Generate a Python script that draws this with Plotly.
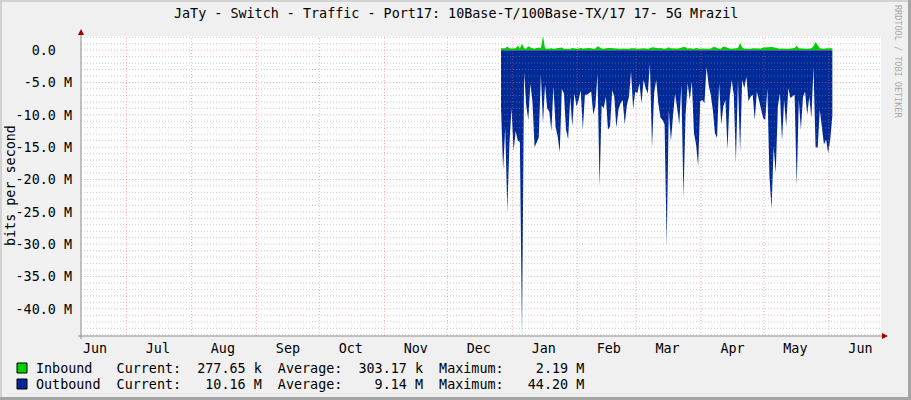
import plotly.graph_objects as go
import pandas as pd

# ---------------- data ----------------
TITLE = "JaTy - Switch - Traffic - Port17: 10Base-T/100Base-TX/17 17- 5G Mrazil"
DATA_START = "2010-12-26 15:00"          # first daily sample
X_RANGE = ["2010-06-09 08:00", "2011-06-25 19:40"]

# Inbound (bits/s, in millions), one value per day
inbound_M = [
    0.30, 0.35, 0.30, 0.55, 0.30, 0.25, 0.30, 0.30, 0.70, 0.30,
    1.00, 0.30, 0.25, 0.60, 0.40, 0.30, 0.20, 0.35, 0.40, 0.30,
    2.19, 0.30, 0.20, 0.25, 0.30, 0.20, 0.25, 0.40, 0.35, 0.40,
    0.20, 0.25, 0.20, 0.20, 0.35, 0.30, 0.20, 0.25, 0.35, 0.25,
    0.30, 0.35, 0.35, 0.30, 0.20, 0.25, 0.60, 0.45, 0.25, 0.20,
    0.30, 0.35, 0.35, 0.30, 0.35, 0.30, 0.25, 0.20, 0.25, 0.20,
    0.25, 0.20, 0.30, 0.35, 0.30, 0.20, 0.25, 0.20, 0.30, 0.25,
    0.20, 0.30, 0.45, 0.40, 0.30, 0.30, 0.35, 0.30, 0.20, 0.30,
    0.45, 0.30, 0.25, 0.20, 0.25, 0.30, 0.40, 0.50, 0.45, 0.25,
    0.30, 0.25, 0.20, 0.35, 0.25, 0.20, 0.25, 0.20, 0.25, 0.20,
    0.25, 0.45, 0.50, 0.40, 0.20, 0.25, 0.55, 0.50, 0.35, 0.25,
    0.20, 0.25, 0.30, 0.35, 1.10, 0.40, 0.25, 0.20, 0.25, 0.20,
    0.30, 0.30, 0.25, 0.20, 0.25, 0.40, 0.45, 0.50, 0.45, 0.50,
    0.45, 0.35, 0.25, 0.20, 0.25, 0.20, 0.25, 0.20, 0.25, None,
    0.35, 0.70, 0.30, 0.25, 0.20, 0.25, 0.20, 0.25, 0.30, 0.60,
    1.25, 0.80, 0.30, 0.25, 0.20, 0.30, 0.30, 0.25, 0.28,
]

# Outbound (bits/s, in millions, drawn negative), one value per day
outbound_M = [
    -9.0, -18.5, -12.0, -25.0, -14.5, -9.0, -15.6, -12.5, -14.0, -14.2,
    -44.2, -3.4, -8.5, -10.8, -5.2, -8.0, -15.0, -14.2, -13.5, -3.8,
    -11.3, -5.3, -9.0, -9.5, -12.5, -5.6, -11.8, -13.3, -15.8, -6.0,
    -6.7, -12.3, -13.8, -7.2, -11.8, -6.7, -8.7, -7.7, -6.2, -12.3,
    -6.9, -6.9, -6.7, -6.4, -10.0, -8.7, -3.6, -21.0, -8.5, -9.0,
    -7.2, -12.3, -11.8, -6.2, -7.2, -12.0, -9.2, -8.2, -7.7, -11.5,
    -8.5, -7.2, -3.3, -9.1, -6.4, -6.7, -5.1, -8.2, -4.6, -5.9,
    -6.7, -2.1, -15.1, -6.7, -4.6, -8.2, -10.4, -10.8, -11.5, -30.3,
    -9.2, -14.1, -10.3, -6.7, -9.0, -11.5, -5.4, -22.8, -10.0, -5.1,
    -7.7, -4.9, -12.8, -14.6, -17.9, -7.9, -7.7, -8.2, -2.6, -5.4,
    -6.9, -9.2, -12.8, -13.6, -5.1, -11.5, -8.7, -7.7, -15.4, -7.4,
    -4.6, -6.9, -17.4, -4.6, -15.8, -4.6, -5.9, -4.1, -7.9, -7.2,
    -6.9, -10.8, -6.4, -7.7, -9.0, -10.5, -10.8, -5.9, -19.5, -24.6,
    -14.9, -19.0, -8.7, -6.7, -14.1, -7.7, -11.8, -5.9, -7.4, None,
    -6.9, -21.0, -7.7, -12.3, -7.2, -6.4, -10.0, -7.2, -10.5, -2.6,
    -15.0, -15.1, -9.2, -12.3, -14.6, -13.8, -15.9, -13.8, -10.16,
]

month_names = ["Jun", "Jul", "Aug", "Sep", "Oct", "Nov", "Dec",
               "Jan", "Feb", "Mar", "Apr", "May", "Jun"]
month_label_dates = ["2010-06-16", "2010-07-16", "2010-08-16", "2010-09-16",
                     "2010-10-16", "2010-11-16", "2010-12-16", "2011-01-16",
                     "2011-02-16", "2011-03-16", "2011-04-16", "2011-05-16",
                     "2011-06-16"]
month_grid_dates = ["2010-07-01", "2010-08-01", "2010-09-01", "2010-10-01",
                    "2010-11-01", "2010-12-01", "2011-01-01", "2011-02-01",
                    "2011-03-01", "2011-04-01", "2011-05-01", "2011-06-01"]

y_tick_vals = [0, -5, -10, -15, -20, -25, -30, -35, -40]
y_tick_text = ["0.0  ", "-5.0 M", "-10.0 M", "-15.0 M", "-20.0 M",
               "-25.0 M", "-30.0 M", "-35.0 M", "-40.0 M"]

legend_names = ["Inbound", "Outbound"]
legend_colors = ["#00CF00", "#002A97"]
legend_current = ["277.65 k", "10.16 M"]
legend_average = ["303.17 k", "9.14 M"]
legend_maximum = ["2.19 M", "44.20 M"]

# ---------------- figure ----------------
W, H = 911, 400
L, R, T, B = 81, 30, 36, 64
PW, PH = W - L - R, H - T - B
FONT = "DejaVu Sans Mono"
FS = 13.4
NB = "\u00a0"

def px(X):
    return (X - L) / PW

def py(Y):
    return (T + PH - Y) / PH

dates = pd.date_range(DATA_START, periods=len(outbound_M), freq="D")

fig = go.Figure()
fig.add_trace(go.Scatter(
    x=dates, y=inbound_M, mode="lines", fill="tozeroy",
    line=dict(width=0, color=legend_colors[0]), fillcolor=legend_colors[0],
    connectgaps=False, showlegend=False, hoverinfo="skip"))
fig.add_trace(go.Scatter(
    x=dates, y=outbound_M, mode="lines", fill="tozeroy",
    line=dict(width=0, color=legend_colors[1]), fillcolor=legend_colors[1],
    connectgaps=False, showlegend=False, hoverinfo="skip"))

y_max = max(v for v in inbound_M if v is not None)
y_min = min(v for v in outbound_M if v is not None)

shapes = []
# grid (drawn above data, as rrdtool does)
minor_col = "rgba(150,150,150,0.5)"
major_col = "rgba(255,90,90,0.5)"
for v in range(int(y_max), int(y_min) - 1, -1):
    if v < y_min or v > y_max:
        continue
    shapes.append(dict(type="line", xref="paper", yref="y", x0=0, x1=1, y0=v, y1=v,
                       line=dict(color=major_col if v % 5 == 0 else minor_col,
                                 width=1, dash="1px,2px"), layer="above"))
for d in month_grid_dates:
    shapes.append(dict(type="line", xref="x", yref="paper", x0=d, x1=d, y0=0, y1=1,
                       line=dict(color=major_col, width=1, dash="1px,2px"), layer="above"))

axis_col = "#8C8C8C"
arrow_col = "#A00000"
# axes
shapes.append(dict(type="line", xref="paper", yref="paper",
                   x0=px(81), x1=px(81), y0=py(339), y1=py(33),
                   line=dict(color=axis_col, width=1), layer="above"))
shapes.append(dict(type="line", xref="paper", yref="paper",
                   x0=px(78), x1=px(884), y0=py(336), y1=py(336),
                   line=dict(color=axis_col, width=1), layer="above"))
# arrows
shapes.append(dict(type="path", xref="paper", yref="paper",
                   path=f"M {px(81)} {py(29)} L {px(78)} {py(35)} L {px(84)} {py(35)} Z",
                   fillcolor=arrow_col, line=dict(width=0), layer="above"))
shapes.append(dict(type="path", xref="paper", yref="paper",
                   path=f"M {px(888)} {py(336)} L {px(882)} {py(333)} L {px(882)} {py(339)} Z",
                   fillcolor=arrow_col, line=dict(width=0), layer="above"))
# frame
shapes.append(dict(type="rect", xref="paper", yref="paper", x0=px(0), x1=px(W), y0=py(0), y1=py(2),
                   fillcolor="#D2D2D2", line=dict(width=0)))
shapes.append(dict(type="rect", xref="paper", yref="paper", x0=px(0), x1=px(2), y0=py(0), y1=py(H),
                   fillcolor="#D2D2D2", line=dict(width=0)))
shapes.append(dict(type="rect", xref="paper", yref="paper", x0=px(W - 3), x1=px(W), y0=py(0), y1=py(H),
                   fillcolor="#A4A4A4", line=dict(width=0)))
shapes.append(dict(type="rect", xref="paper", yref="paper", x0=px(0), x1=px(W), y0=py(H - 3), y1=py(H),
                   fillcolor="#A4A4A4", line=dict(width=0)))

annotations = []
# title
annotations.append(dict(text=TITLE, xref="paper", yref="paper", x=px(455.5), y=py(13),
                        xanchor="center", yanchor="middle", showarrow=False,
                        font=dict(family=FONT, size=FS, color="#000000")))
# y-axis title
annotations.append(dict(text="bits per second", xref="paper", yref="paper", x=px(10), y=py(186),
                        xanchor="center", yanchor="middle", textangle=-90, showarrow=False,
                        font=dict(family=FONT, size=FS, color="#000000")))
# watermark
annotations.append(dict(text="RRDTOOL / TOBI OETIKER", xref="paper", yref="paper",
                        x=px(898), y=py(61), xanchor="center", yanchor="middle",
                        textangle=90, showarrow=False,
                        font=dict(family=FONT, size=8.5, color="#A8A8A8")))

# legend
row_y = [368, 384]
for i in range(2):
    line = (f"{legend_names[i]:<8}  Current:{legend_current[i]:>10}  "
            f"Average:{legend_average[i]:>10}  Maximum:{legend_maximum[i]:>10}")
    annotations.append(dict(text=line.replace(" ", NB), xref="paper", yref="paper",
                            x=px(34), y=py(row_y[i]), xanchor="left", yanchor="middle",
                            showarrow=False,
                            font=dict(family=FONT, size=FS, color="#000000")))
    shapes.append(dict(type="rect", xref="paper", yref="paper",
                       x0=px(17), x1=px(27), y0=py(row_y[i] - 5), y1=py(row_y[i] + 5),
                       fillcolor=legend_colors[i], line=dict(color="#000000", width=1)))

fig.update_layout(
    width=W, height=H,
    margin=dict(l=L, r=R, t=T, b=B, pad=0),
    paper_bgcolor="#F0F0F0", plot_bgcolor="#FFFFFF",
    shapes=shapes, annotations=annotations, showlegend=False,
    xaxis=dict(type="date", range=X_RANGE, tickmode="array",
               tickvals=month_label_dates, ticktext=month_names,
               showgrid=False, zeroline=False, showline=False, ticks="",
               ticklabelstandoff=3,
               tickfont=dict(family=FONT, size=FS, color="#000000"), fixedrange=True),
    yaxis=dict(range=[y_min, y_max], tickmode="array",
               tickvals=y_tick_vals, ticktext=[t.replace(" ", NB) for t in y_tick_text],
               showgrid=False, zeroline=False, showline=False, ticks="",
               ticklabelstandoff=8,
               tickfont=dict(family=FONT, size=FS, color="#000000"), fixedrange=True),
)

fig.write_html("out.html", config={"displayModeBar": False},
               post_script="document.body.style.margin='0';document.body.style.padding='0';"
                           "document.body.style.overflow='hidden';")
